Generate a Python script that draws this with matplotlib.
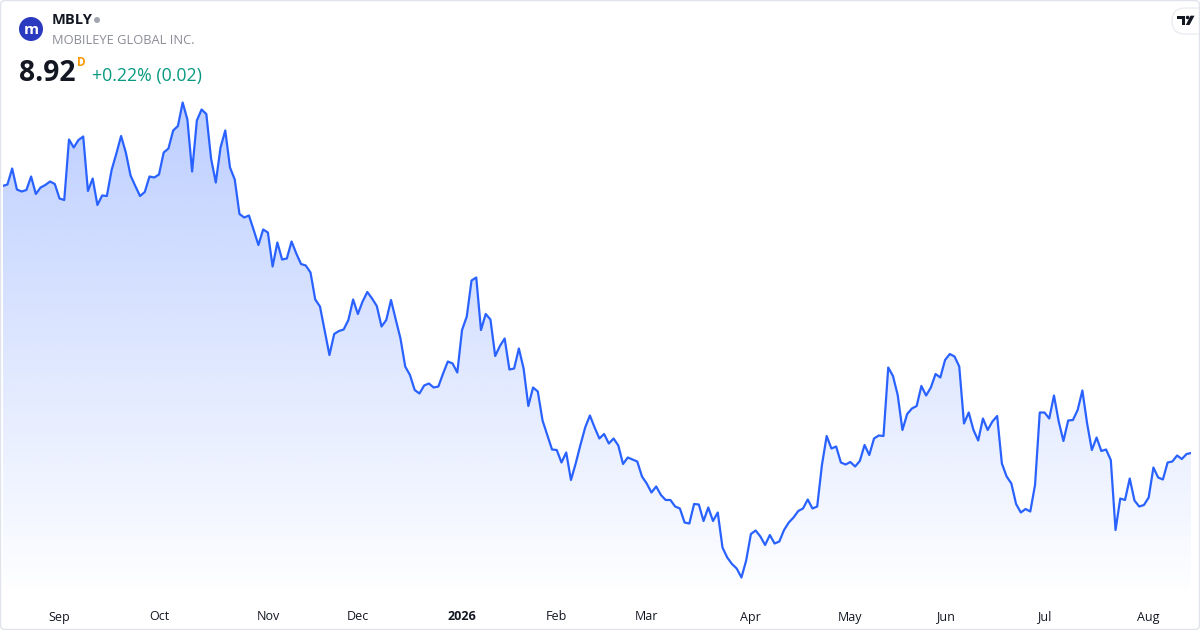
import numpy as np
import pandas as pd
import matplotlib
matplotlib.use("Agg")
import matplotlib.pyplot as plt
from matplotlib.patches import Circle, FancyBboxPatch, Polygon
from matplotlib.transforms import blended_transform_factory

# ---------------- data ----------------
ticker = "MBLY"
company = "MOBILEYE GLOBAL INC."
last_price = "8.92"
change_text = "+0.22% (0.02)"

start_date = "2025-08-14"
end_date = "2026-08-14"
market_holidays = ["2025-09-01", "2025-11-27", "2025-12-25", "2026-01-01",
                   "2026-01-19", "2026-02-16", "2026-04-03", "2026-05-25",
                   "2026-06-19", "2026-07-03"]

close_prices = [
    14.26, 14.29, 14.61, 14.19, 14.15, 14.18, 14.45, 14.10, 14.23, 14.28,
    14.35, 14.30, 14.01, 13.98, 15.19, 15.03, 15.18, 15.25, 14.16, 14.41,
    13.88, 14.07, 14.06, 14.58, 14.91, 15.26, 14.93, 14.47, 14.26, 14.06,
    14.14, 14.45, 14.43, 14.49, 14.93, 15.01, 15.37, 15.46, 15.93, 15.59,
    14.55, 15.57, 15.79, 15.70, 14.81, 14.33, 15.03, 15.37, 14.63, 14.39,
    13.70, 13.63, 13.67, 13.38, 13.08, 13.39, 13.33, 12.65, 13.13, 12.79,
    12.81, 13.15, 12.91, 12.70, 12.67, 12.53, 11.99, 11.85, 11.37, 10.88,
    11.30, 11.36, 11.39, 11.58, 11.99, 11.70, 11.95, 12.14, 12.01, 11.86,
    11.45, 11.58, 11.98, 11.59, 11.21, 10.65, 10.48, 10.18, 10.11, 10.27,
    10.31, 10.23, 10.25, 10.51, 10.75, 10.71, 10.53, 11.38, 11.65, 12.37,
    12.43, 11.38, 11.70, 11.59, 10.86, 11.06, 11.21, 10.59, 10.61, 11.01,
    10.61, 9.86, 10.23, 10.15, 9.57, 9.28, 8.99, 8.98, 8.73, 8.93,
    8.38, 8.71, 9.08, 9.43, 9.67, 9.43, 9.21, 9.30, 9.11, 9.21,
    9.07, 8.70, 8.83, 8.79, 8.75, 8.45, 8.31, 8.13, 8.25, 8.08,
    7.98, 7.98, 7.85, 7.81, 7.53, 7.51, 7.90, 7.89, 7.56, 7.83,
    7.56, 7.73, 7.03, 6.83, 6.70, 6.61, 6.43, 6.77, 7.30, 7.37,
    7.25, 7.08, 7.28, 7.11, 7.15, 7.38, 7.53, 7.63, 7.76, 7.81,
    7.99, 7.81, 7.85, 8.68, 9.26, 9.01, 9.05, 8.73, 8.69, 8.74,
    8.65, 8.76, 9.08, 8.88, 9.21, 9.27, 9.26, 10.63, 10.46, 10.08,
    9.38, 9.70, 9.81, 9.86, 10.26, 10.07, 10.23, 10.50, 10.43, 10.78,
    10.90, 10.85, 10.65, 9.51, 9.73, 9.38, 9.17, 9.61, 9.38, 9.55,
    9.66, 8.71, 8.45, 8.31, 7.90, 7.73, 7.80, 7.75, 8.28, 9.73,
    9.73, 9.61, 10.07, 9.55, 9.16, 9.57, 9.58, 9.78, 10.17, 9.51,
    8.98, 9.23, 8.96, 8.99, 8.78, 7.38, 8.01, 7.98, 8.41, 7.97,
    7.85, 7.88, 8.03, 8.63, 8.43, 8.39, 8.73, 8.75, 8.87, 8.80,
    8.90, 8.92,
]

# ---------------- setup ----------------
W_PX, H_PX = 1200, 630
plt.rcParams['font.family'] = ['Open Sans', 'DejaVu Sans']

dates = pd.bdate_range(start_date, end_date, freq="C", holidays=market_holidays)
n = min(len(dates), len(close_prices))
dates = dates[:n]
prices = np.array(close_prices[:n])
x = np.arange(n)

fig = plt.figure(figsize=(W_PX / 100, H_PX / 100), dpi=100)
fig.patch.set_facecolor("white")

ax_left_px, ax_right_px = 2.7, 1191.3
ax_top_px, ax_bot_px = 100, 600
ax = fig.add_axes([ax_left_px / W_PX, 1 - ax_bot_px / H_PX,
                   (ax_right_px - ax_left_px) / W_PX, (ax_bot_px - ax_top_px) / H_PX])
ax.set_xlim(0, n - 1)
y_lo, y_hi = 5.98, 15.98
ax.set_ylim(y_lo, y_hi)
ax.axis("off")

line_color = "#2962FF"
# gradient fill under the line
grad = np.linspace(1, 0, 300)
img = np.zeros((300, 1, 4))
img[..., 0] = 41 / 255
img[..., 1] = 98 / 255
img[..., 2] = 1.0
img[:, 0, 3] = 0.31 * grad
im = ax.imshow(img, extent=[0, n - 1, y_lo, y_hi], aspect="auto",
               origin="upper", zorder=1, interpolation="bilinear")
poly = ax.fill_between(x, prices, y_lo, facecolor="none", edgecolor="none")
im.set_clip_path(poly.get_paths()[0], transform=ax.transData)

ax.plot(x, prices, color=line_color, lw=1.6, zorder=3, solid_joinstyle="round")

# month labels
trans = blended_transform_factory(ax.transData, fig.transFigure)
months = dates.to_period("M")
for i in range(1, n):
    if months[i] != months[i - 1]:
        d = dates[i]
        if d.month == 1:
            ax.text(i, 1 - 617 / H_PX, str(d.year), transform=trans, ha="center",
                    va="center", fontsize=9, fontweight="bold", color="#131722")
        else:
            ax.text(i, 1 - 617 / H_PX, d.strftime("%b"), transform=trans, ha="center",
                    va="center", fontsize=9, color="#131722")

# ---------------- header ----------------
def fx(px):
    return px / W_PX

def fy(py):
    return 1 - py / H_PX

inch = fig.dpi_scale_trans

def P(px, py):
    return (px / 100, (H_PX - py) / 100)

fig.patches.append(Circle(P(31, 29), 12 / 100, transform=inch, facecolor="#2b3bbf",
                          edgecolor="none"))
fig.text(fx(31), fy(29.5), "m", ha="center", va="center", color="white",
         fontsize=11, fontweight="bold")
fig.text(fx(51.5), fy(20), ticker, ha="left", va="center", fontsize=10.5,
         fontweight="bold", color="#131722")
fig.patches.append(Circle(P(97, 20), 3 / 100, transform=inch, facecolor="#a3a6af",
                          edgecolor="none"))
fig.text(fx(51.5), fy(40), company, ha="left", va="center", fontsize=9.3,
         color="#8a8d96")
fig.text(fx(18.5), fy(81), last_price, ha="left", va="baseline", fontsize=20.3,
         fontweight="bold", color="#131722")
fig.text(fx(77), fy(66), "D", ha="left", va="baseline", fontsize=8.5,
         fontweight="bold", color="#ff9800")
fig.text(fx(91.5), fy(81), change_text, ha="left", va="baseline", fontsize=12.8,
         color="#089981")

# TradingView badge
fig.patches.append(FancyBboxPatch(P(1172, 34), 40 / 100, 26 / 100, transform=inch,
                                  boxstyle="round,pad=0,rounding_size=0.13",
                                  facecolor="white", edgecolor="#e6e8ee", lw=0.8,
                                  zorder=5))
fig.patches.append(Polygon([P(1177.3, 15.7), P(1185.3, 15.7), P(1185.3, 25),
                            P(1181.5, 25), P(1181.5, 19.3), P(1177.3, 19.3)],
                           closed=True, transform=inch, facecolor="#131722",
                           edgecolor="none", zorder=6))
fig.patches.append(Circle(P(1187.6, 17.5), 1.8 / 100, transform=inch,
                          facecolor="#131722", edgecolor="none", zorder=6))
fig.patches.append(Polygon([P(1190.5, 15.7), P(1194.5, 15.7), P(1189.5, 25),
                            P(1185.8, 25)], closed=True, transform=inch,
                           facecolor="#131722", edgecolor="none", zorder=6))

# outer border
fig.patches.append(FancyBboxPatch(P(0.5, 629.5), 1199 / 100, 629 / 100, transform=inch,
                                  boxstyle="round,pad=0,rounding_size=0.05",
                                  facecolor="none", edgecolor="#e0e3eb", lw=1.0,
                                  zorder=10))

fig.savefig("out.png", dpi=100, facecolor="white")
